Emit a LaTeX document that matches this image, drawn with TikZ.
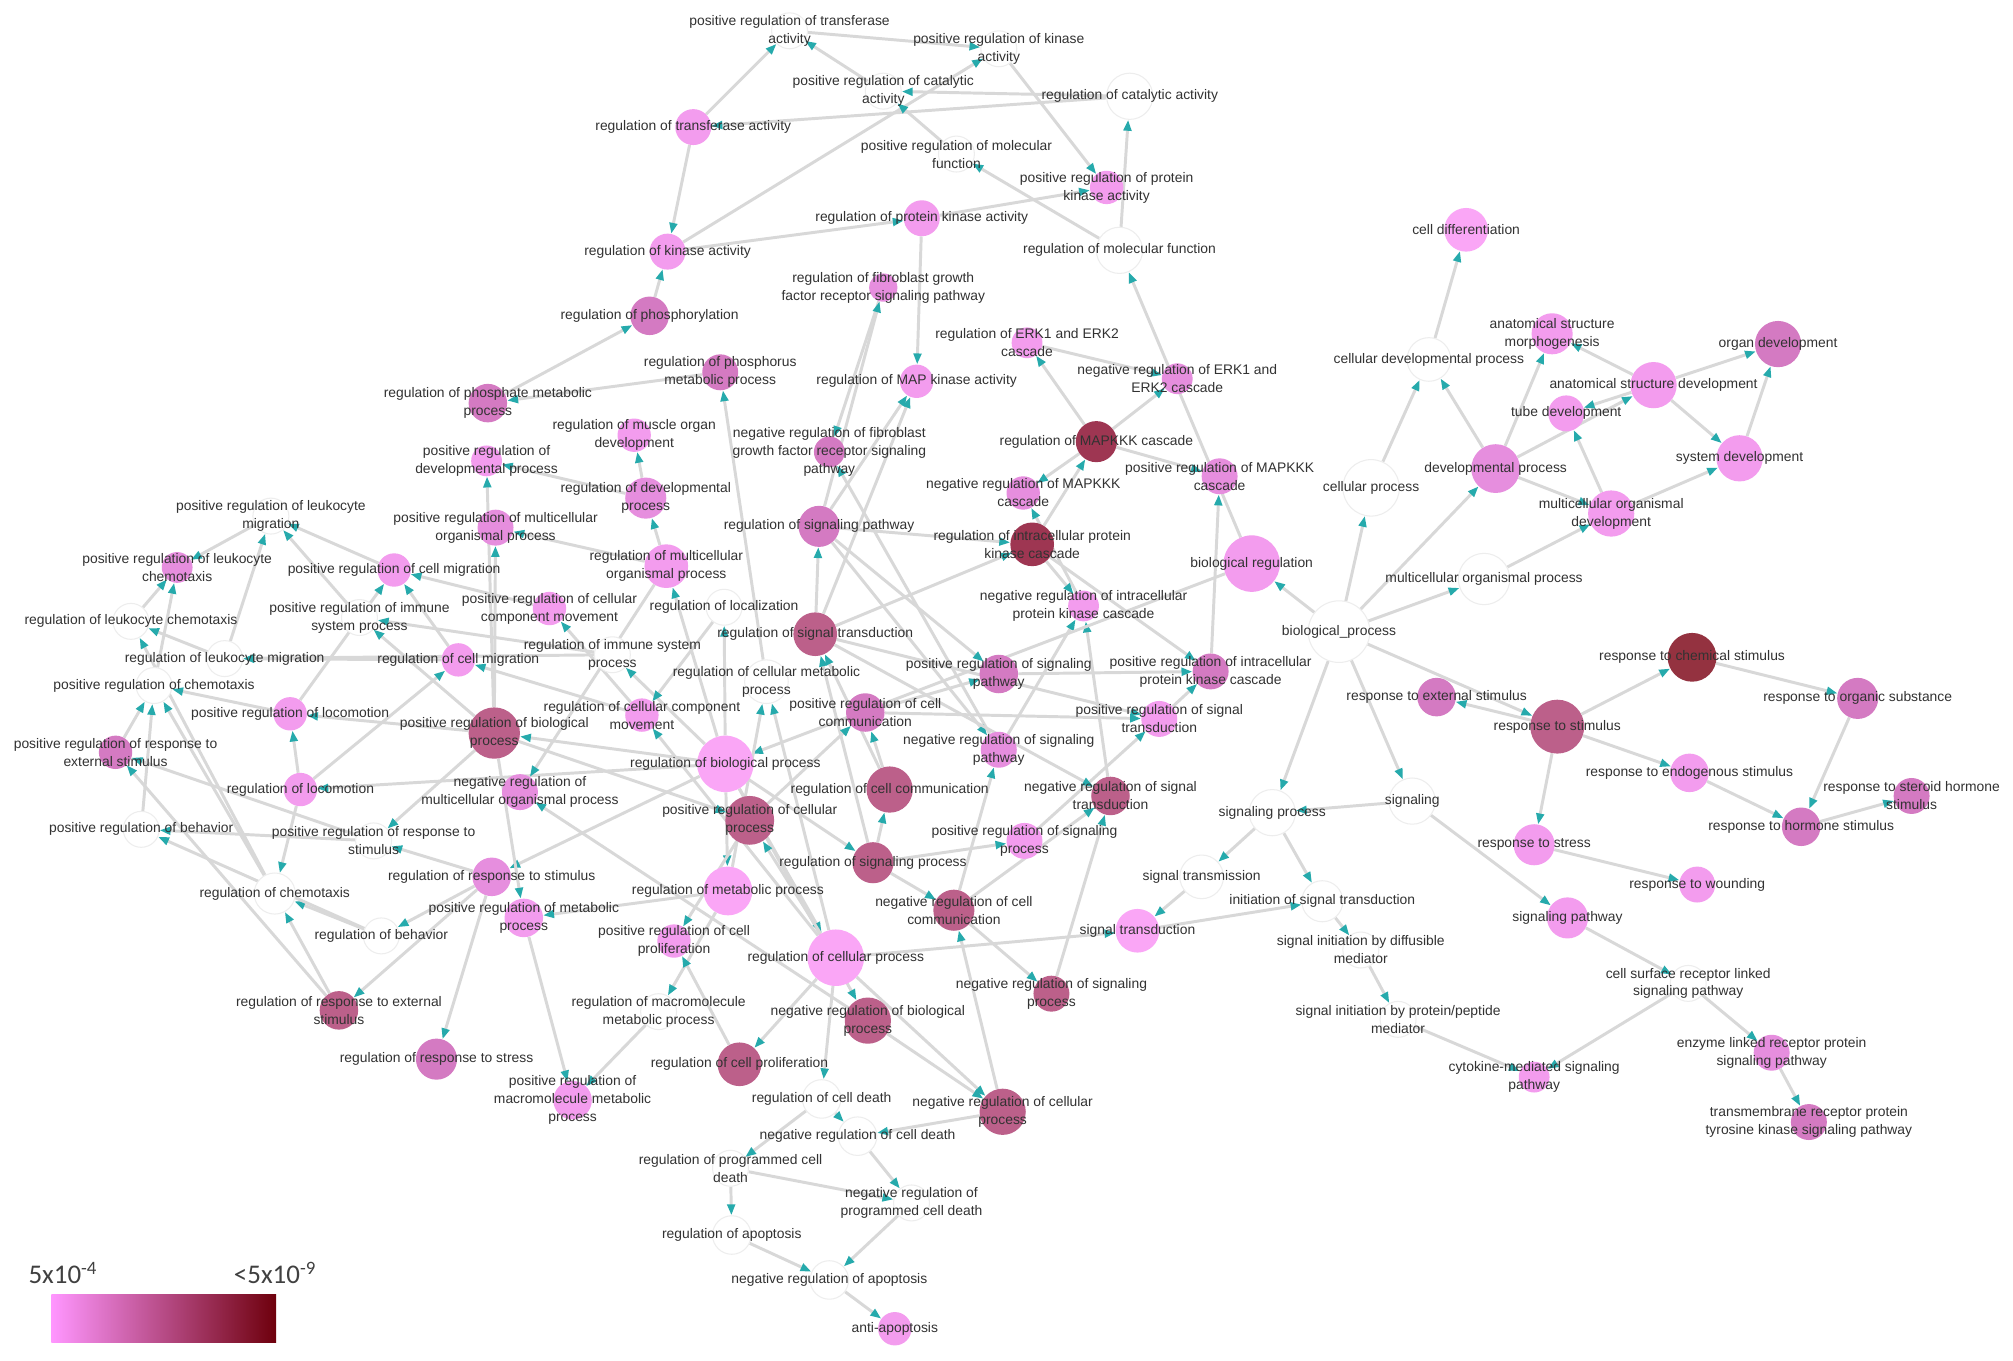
\documentclass[tikz,border=0pt]{standalone}
\usepackage{fontspec}
\setmainfont{Liberation Sans}
\newfontfamily\legendfont{Carlito}
\usetikzlibrary{arrows.meta}
\pgfdeclarelayer{bg}
\pgfdeclarelayer{fg}
\pgfsetlayers{bg,main,fg}
\definecolor{colL}{RGB}{250,166,246}
\definecolor{colA}{RGB}{243,156,238}
\definecolor{colB}{RGB}{230,142,222}
\definecolor{colC}{RGB}{212,122,194}
\definecolor{colD}{RGB}{188,96,138}
\definecolor{colE}{RGB}{158,54,82}
\definecolor{colF}{RGB}{148,50,64}
\definecolor{edgegray}{RGB}{216,216,216}
\definecolor{tipteal}{RGB}{38,170,172}
\definecolor{lbl}{RGB}{50,50,50}
\definecolor{legL}{RGB}{255,150,255}
\definecolor{legR}{RGB}{110,0,12}
\newcommand\gonode[6]{%
  \node[gocirc,#5,minimum size={2*#4pt}] (#1) at (#2,#3) {};%
  \begin{pgfonlayer}{fg}\node[golabel] (#1-l) at (#2,#3) {#6};\end{pgfonlayer}}
\begin{document}
\begin{tikzpicture}[x=1pt,y=-1pt,
  gocirc/.style={circle, inner sep=0pt, draw=none},
  golabel/.style={font=\fontsize{10.8}{14}\selectfont, text=lbl, align=center, inner sep=0pt},
  goedge/.style={draw=edgegray, line width=2.3pt, -{Triangle[length=8.5pt,width=6pt,color=tipteal]}},
  wN/.style={fill=white, draw=black!7, line width=0.8pt},
  pL/.style={fill=colL}, pA/.style={fill=colA}, pB/.style={fill=colB},
  pC/.style={fill=colC}, pD/.style={fill=colD}, pE/.style={fill=colE}, pF/.style={fill=colF},
  legtext/.style={font=\legendfont\fontsize{21}{24}\selectfont, text=black!75, inner sep=0pt}]
\begin{pgfonlayer}{bg}
\fill[white] (0,0) rectangle (1568,1060);
\end{pgfonlayer}
\useasboundingbox (0,0) rectangle (1568,1060);
% ---------------- nodes ----------------
\gonode{pRTA}{615}{24}{14}{wN}{positive regulation of transferase\\activity}
\gonode{pRKA}{778}{38}{14}{wN}{positive regulation of kinase\\activity}
\gonode{pRCA}{688}{71}{14}{wN}{positive regulation of catalytic\\activity}
\gonode{RCA}{880}{75}{18}{wN}{regulation of catalytic activity}
\gonode{RTA}{540}{99}{14}{pA}{regulation of transferase activity}
\gonode{pRMF}{745}{120}{14}{wN}{positive regulation of molecular\\function}
\gonode{pRPKA}{862}{146}{13}{pA}{positive regulation of protein\\kinase activity}
\gonode{RPKA}{718}{170}{14}{pA}{regulation of protein kinase activity}
\gonode{RKA}{520}{196}{14}{pA}{regulation of kinase activity}
\gonode{RMF}{872}{195}{18}{wN}{regulation of molecular function}
\gonode{RPh}{506}{246}{15}{pC}{regulation of phosphorylation}
\gonode{RFGF}{688}{224}{11}{pB}{regulation of fibroblast growth\\factor receptor signaling pathway}
\gonode{RERK}{800}{267}{12}{pA}{regulation of ERK1 and ERK2\\cascade}
\gonode{nRERK}{917}{295}{12}{pB}{negative regulation of ERK1 and\\ERK2 cascade}
\gonode{RPM}{561}{290}{14}{pC}{regulation of phosphorus\\metabolic process}
\gonode{RMAPK}{714}{297}{13}{pA}{regulation of MAP kinase activity}
\gonode{RPMP}{380}{314}{15}{pC}{regulation of phosphate metabolic\\process}
\gonode{RMOD}{494}{339}{13}{pA}{regulation of muscle organ\\development}
\gonode{nRFGF}{646}{352}{12}{pC}{negative regulation of fibroblast\\growth factor receptor signaling\\pathway}
\gonode{RMAPKKK}{854}{344}{16}{pE}{regulation of MAPKKK cascade}
\gonode{pRMAPKKK}{950}{371}{14}{pB}{positive regulation of MAPKKK\\cascade}
\gonode{nRMAPKKK}{797}{384}{13}{pB}{negative regulation of MAPKKK\\cascade}
\gonode{pRDP}{379}{359}{12}{pA}{positive regulation of\\developmental process}
\gonode{RDP}{503}{388}{16}{pB}{regulation of developmental\\process}
\gonode{pRLM}{211}{402}{14}{wN}{positive regulation of leukocyte\\migration}
\gonode{pRMOP}{386}{411}{14}{pB}{positive regulation of multicellular\\organismal process}
\gonode{RSP}{638}{410}{16}{pC}{regulation of signaling pathway}
\gonode{RIPKC}{804}{424}{17}{pE}{regulation of intracellular protein\\kinase cascade}
\gonode{BR}{975}{439}{22}{pA}{biological regulation}
\gonode{pRLC}{138}{442}{12}{pB}{positive regulation of leukocyte\\chemotaxis}
\gonode{pRCM}{307}{444}{13}{pA}{positive regulation of cell migration}
\gonode{RMOP}{519}{441}{17}{pA}{regulation of multicellular\\organismal process}
\gonode{RL}{564}{473}{14}{wN}{regulation of localization}
\gonode{nRIPKC}{844}{472}{12}{pA}{negative regulation of intracellular\\protein kinase cascade}
\gonode{pRISP}{280}{481}{14}{wN}{positive regulation of immune\\system process}
\gonode{pRCCM}{428}{474}{13}{pA}{positive regulation of cellular\\component movement}
\gonode{RLC}{102}{484}{14}{wN}{regulation of leukocyte chemotaxis}
\gonode{RST}{635}{494}{17}{pD}{regulation of signal transduction}
\gonode{BP}{1043}{492}{24}{wN}{biological\_process}
\gonode{RLM}{175}{513}{14}{wN}{regulation of leukocyte migration}
\gonode{RCMig}{357}{514}{13}{pA}{regulation of cell migration}
\gonode{RISP}{477}{510}{14}{wN}{regulation of immune system\\process}
\gonode{pRSP}{778}{525}{15}{pC}{positive regulation of signaling\\pathway}
\gonode{pRIPKC}{943}{523}{14}{pC}{positive regulation of intracellular\\protein kinase cascade}
\gonode{RCMP}{597}{531}{17}{wN}{regulation of cellular metabolic\\process}
\gonode{pRC}{120}{534}{14}{wN}{positive regulation of chemotaxis}
\gonode{RCCM}{500}{557}{13}{pA}{regulation of cellular component\\movement}
\gonode{pRCC}{674}{555}{15}{pC}{positive regulation of cell\\communication}
\gonode{pRST}{903}{560}{14}{pA}{positive regulation of signal\\transduction}
\gonode{pRLoc}{226}{556}{13}{pA}{positive regulation of locomotion}
\gonode{pRBP}{385}{571}{20}{pD}{positive regulation of biological\\process}
\gonode{RBP}{565}{595}{22}{pL}{regulation of biological process}
\gonode{pRRES}{90}{586}{13}{pC}{positive regulation of response to\\external stimulus}
\gonode{nRSP}{778}{584}{14}{pB}{negative regulation of signaling\\pathway}
\gonode{RCC}{693}{615}{18}{pD}{regulation of cell communication}
\gonode{nRMOP}{405}{617}{14}{pB}{negative regulation of\\multicellular organismal process}
\gonode{RLoc}{234}{615}{13}{pA}{regulation of locomotion}
\gonode{nRST}{865}{620}{15}{pD}{negative regulation of signal\\transduction}
\gonode{pRCP}{584}{639}{19}{pD}{positive regulation of cellular\\process}
\gonode{SP}{991}{633}{18}{wN}{signaling process}
\gonode{Sig}{1100}{624}{18}{wN}{signaling}
\gonode{pRB}{110}{646}{14}{wN}{positive regulation of behavior}
\gonode{pRRS}{291}{655}{14}{wN}{positive regulation of response to\\stimulus}
\gonode{pRSPr}{798}{655}{14}{pA}{positive regulation of signaling\\process}
\gonode{RSPr}{680}{672}{16}{pD}{regulation of signaling process}
\gonode{RRS}{383}{683}{15}{pB}{regulation of response to stimulus}
\gonode{RC}{214}{696}{16}{wN}{regulation of chemotaxis}
\gonode{RMP}{567}{694}{19}{pL}{regulation of metabolic process}
\gonode{ST}{936}{683}{17}{wN}{signal transmission}
\gonode{nRCC}{743}{709}{16}{pD}{negative regulation of cell\\communication}
\gonode{pRMP}{408}{715}{15}{pA}{positive regulation of metabolic\\process}
\gonode{IST}{1030}{702}{16}{wN}{initiation of signal transduction}
\gonode{RB}{297}{729}{14}{wN}{regulation of behavior}
\gonode{pRCP2}{525}{733}{13}{pA}{positive regulation of cell\\proliferation}
\gonode{SigT}{886}{725}{17}{pL}{signal transduction}
\gonode{RCP}{651}{746}{22}{pL}{regulation of cellular process}
\gonode{SIDM}{1060}{740}{14}{wN}{signal initiation by diffusible\\mediator}
\gonode{nRSPr}{819}{774}{14}{pD}{negative regulation of signaling\\process}
\gonode{RRES}{264}{787}{15}{pD}{regulation of response to external\\stimulus}
\gonode{RMMP}{513}{788}{14}{wN}{regulation of macromolecule\\metabolic process}
\gonode{nRBP}{676}{795}{18}{pD}{negative regulation of biological\\process}
\gonode{SIPP}{1089}{794}{14}{wN}{signal initiation by protein/peptide\\mediator}
\gonode{RRSt}{340}{825}{16}{pC}{regulation of response to stress}
\gonode{RCProl}{576}{829}{17}{pD}{regulation of cell proliferation}
\gonode{pRMMP}{446}{857}{15}{pA}{positive regulation of\\macromolecule metabolic\\process}
\gonode{RCD}{640}{856}{15}{wN}{regulation of cell death}
\gonode{nRCP}{781}{866}{18}{pD}{negative regulation of cellular\\process}
\gonode{nRCD}{668}{885}{15}{wN}{negative regulation of cell death}
\gonode{RPCD}{569}{910}{14}{wN}{regulation of programmed cell\\death}
\gonode{nRPCD}{710}{937}{14}{wN}{negative regulation of\\programmed cell death}
\gonode{RA}{570}{962}{15}{wN}{regulation of apoptosis}
\gonode{nRA}{646}{997}{15}{wN}{negative regulation of apoptosis}
\gonode{AA}{697}{1035}{13}{pA}{anti-apoptosis}
% right cluster
\gonode{CD}{1142}{179}{17}{pL}{cell differentiation}
\gonode{ASM}{1209}{260}{16}{pA}{anatomical structure\\morphogenesis}
\gonode{OD}{1385}{268}{18}{pC}{organ development}
\gonode{CDP}{1113}{280}{17}{wN}{cellular developmental process}
\gonode{ASD}{1288}{300}{18}{pA}{anatomical structure development}
\gonode{TD}{1220}{322}{14}{pA}{tube development}
\gonode{DP}{1165}{365}{19}{pB}{developmental process}
\gonode{SD}{1355}{357}{18}{pA}{system development}
\gonode{CP}{1068}{380}{22}{wN}{cellular process}
\gonode{MOD}{1255}{400}{18}{pA}{multicellular organismal\\development}
\gonode{MOP}{1156}{451}{20}{wN}{multicellular organismal process}
\gonode{RCS}{1318}{512}{19}{pF}{response to chemical stimulus}
\gonode{RES}{1119}{543}{15}{pC}{response to external stimulus}
\gonode{ROS}{1447}{544}{16}{pC}{response to organic substance}
\gonode{RS}{1213}{566}{21}{pD}{response to stimulus}
\gonode{REnd}{1316}{602}{15}{pA}{response to endogenous stimulus}
\gonode{RSH}{1489}{620}{14}{pC}{response to steroid hormone\\stimulus}
\gonode{RHS}{1403}{644}{15}{pC}{response to hormone stimulus}
\gonode{RSt}{1195}{658}{16}{pA}{response to stress}
\gonode{RW}{1322}{689}{14}{pA}{response to wounding}
\gonode{SigP}{1221}{715}{16}{pA}{signaling pathway}
\gonode{CSR}{1315}{766}{14}{wN}{cell surface receptor linked\\signaling pathway}
\gonode{ELR}{1380}{820}{14}{pB}{enzyme linked receptor protein\\signaling pathway}
\gonode{CMS}{1195}{839}{12}{pA}{cytokine-mediated signaling\\pathway}
\gonode{TRPTK}{1409}{874}{14}{pC}{transmembrane receptor protein\\tyrosine kinase signaling pathway}
% ---------------- edges ----------------
\begin{pgfonlayer}{bg}
\foreach \s/\t in {RTA/pRTA, pRCA/pRTA, pRTA/pRKA, RKA/pRKA, RCA/pRCA, RCA/RTA,
  pRMF/pRCA, RMF/pRMF, RMF/RCA, pRKA/pRPKA, RPKA/pRPKA, RKA/RPKA, RTA/RKA,
  RPh/RKA, RPKA/RMAPK, RPMP/RPh, RPM/RPMP, RCMP/RPM, BR/RMF,
  RFGF/nRFGF, RSP/RFGF, nRSP/nRFGF, RSP/RMAPK, RST/RMAPK,
  RMAPKKK/RERK, RMAPKKK/nRERK, RERK/nRERK, RMAPKKK/pRMAPKKK, RMAPKKK/nRMAPKKK,
  RIPKC/RMAPKKK, nRIPKC/nRMAPKKK, pRIPKC/pRMAPKKK,
  RSP/RIPKC, RST/RIPKC, RIPKC/nRIPKC, RIPKC/pRIPKC,
  RST/RSP, RSP/pRSP, RSP/nRSP, pRCC/pRSP, pRSP/pRIPKC, pRST/pRIPKC, pRCC/pRST,
  pRSPr/pRST, RST/pRST, nRSP/nRIPKC, nRST/nRIPKC, RST/nRST, nRCC/nRSP, nRSPr/nRST, nRCC/nRST,
  RSPr/RST, RCC/RST, RSPr/RCC, RSPr/nRCC, RSPr/pRSPr, RCC/pRCC, pRCP/pRCC,
  nRCP/nRCC, nRCC/nRSPr, RBP/RSPr,
  BP/BR, BR/RBP,
  RBP/pRBP, RBP/nRBP, RBP/RCP, RBP/RMP, RBP/RISP, RBP/RMOP, RBP/RL, RBP/RRS, RBP/RLoc,
  RCP/pRCP, RCP/nRCP, RCP/RCMP, RMP/RCMP, RCP/RCProl, RCP/RCD, RCP/RCCM, RL/RCCM,
  nRBP/nRCP, nRBP/nRMOP, RMOP/nRMOP, RMOP/pRMOP, RMOP/RDP, RDP/pRDP, RDP/RMOD,
  pRBP/pRMOP, pRBP/pRDP,
  pRBP/pRCP, pRBP/pRISP, pRBP/pRLoc, pRBP/pRRS, pRBP/pRMP, RMP/pRMP, RMP/RMMP,
  pRMP/pRMMP, RMMP/pRMMP, RCProl/pRCP2, pRCP/pRCP2,
  RRS/pRRS, RRS/RB, RRS/RRES, RRS/RRSt,
  RCCM/pRCCM, RCCM/RCMig, pRCCM/pRCM, RCMig/pRCM, pRLoc/pRCM, RLoc/pRLoc, RLoc/RCMig,
  RLoc/RC, RB/RC, RRES/RC, RB/pRB, pRRS/pRB,
  RRES/pRRES, pRRS/pRRES, pRRES/pRC, pRB/pRC, RC/pRC, pRLoc/pRC,
  RC/RLC, RLM/RLC, RCMig/RLM, RISP/RLM, RLM/pRLM, pRCM/pRLM, pRISP/pRLM, RISP/pRISP,
  RLC/pRLC, pRLM/pRLC, pRC/pRLC,
  RCD/nRCD, nRCP/nRCD, RCD/RPCD, RPCD/nRPCD, nRCD/nRPCD, RPCD/RA, RA/nRA, nRPCD/nRA, nRA/AA,
  RCP/SigT, SigT/IST,
  BP/CP, BP/DP, BP/MOP, BP/RS, BP/SP, BP/Sig, CP/CDP, DP/CDP, CDP/CD, DP/ASM, ASD/ASM,
  ASD/OD, DP/ASD, ASD/TD, ASD/SD, SD/OD, MOD/SD, MOD/TD, DP/MOD, MOP/MOD,
  RS/RES, RS/RCS, RCS/ROS, RS/REnd, REnd/RHS, ROS/RHS, RHS/RSH, RS/RSt, RSt/RW,
  Sig/SP, Sig/SigP, SigP/CSR, CSR/ELR, ELR/TRPTK, CSR/CMS, SIPP/CMS, SIDM/SIPP,
  IST/SIDM, SP/IST, SP/ST, ST/SigT}
  \draw[goedge] (\s) -- (\t);
\end{pgfonlayer}
% ---------------- legend ----------------
\shade[left color=legL, right color=legR] (40,1008) rectangle (215,1046);
\node[legtext, anchor=base west] (legLo) at (22,1000) {5x10\textsuperscript{-4}};
\node[legtext, anchor=base west] (legHi) at (182,1000) {<5x10\textsuperscript{-9}};
\end{tikzpicture}
\end{document}
